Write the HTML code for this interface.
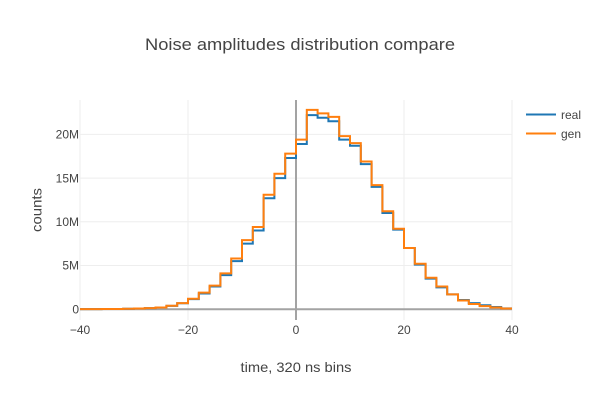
<!DOCTYPE html>
<html>
<head>
<meta charset="utf-8">
<title>Noise amplitudes distribution compare</title>
<style>
html,body{margin:0;padding:0;background:#fff;}
svg{display:block;font-family:"Liberation Sans",sans-serif;}
text{fill:#444;}
</style>
</head>
<body>
<svg id="chart" width="600" height="400" viewBox="0 0 600 400" xmlns="http://www.w3.org/2000/svg">
  <rect x="0" y="0" width="600" height="400" fill="#fff"/>
  <g id="grid"></g>
  <g id="zero"></g>
  <g id="series"></g>
  <g id="xticks"></g>
  <g id="yticks"></g>
  <text x="300" y="50" text-anchor="middle" font-size="17" textLength="310" lengthAdjust="spacingAndGlyphs">Noise amplitudes distribution compare</text>
  <text x="296" y="372" text-anchor="middle" font-size="14" textLength="111" lengthAdjust="spacingAndGlyphs">time, 320 ns bins</text>
  <text x="0" y="0" transform="translate(41.5,210) rotate(-90)" text-anchor="middle" font-size="14" textLength="44" lengthAdjust="spacingAndGlyphs">counts</text>
  <g>
    <g>
      <line x1="526" x2="556" y1="114.5" y2="114.5" stroke="#1f77b4" stroke-width="2"/>
      <text x="561" y="119" font-size="12">real</text>
    </g>
    <g>
      <line x1="526" x2="556" y1="133.5" y2="133.5" stroke="#ff7f0e" stroke-width="2"/>
      <text x="561" y="138" font-size="12">gen</text>
    </g>
  </g>
</svg>
<script>
const binStarts = [-40,-38,-36,-34,-32,-30,-28,-26,-24,-22,-20,-18,-16,-14,-12,-10,-8,-6,-4,-2,0,2,4,6,8,10,12,14,16,18,20,22,24,26,28,30,32,34,36,38];
const realValues = [0.01,0.01,0.02,0.03,0.05,0.08,0.12,0.2,0.38,0.68,1.15,1.8,2.6,3.9,5.5,7.5,9.0,12.7,15.0,17.3,18.9,22.2,21.9,21.5,19.4,18.7,16.6,14.0,11.0,9.1,7.0,5.1,3.5,2.5,1.7,1.05,0.7,0.45,0.25,0.1];
const genValues = [0.01,0.01,0.02,0.03,0.05,0.08,0.12,0.2,0.4,0.7,1.2,1.9,2.7,4.1,5.8,7.9,9.4,13.1,15.5,17.8,19.4,22.8,22.4,22.0,19.8,19.0,16.9,14.2,11.2,9.2,7.0,5.2,3.6,2.6,1.7,1.0,0.6,0.35,0.2,0.08];
const binWidth = 2;
const xTicks = [-40,-20,0,20,40];
const xTickLabels = ["\u221240","\u221220","0","20","40"];
const yTicks = [0,5,10,15,20];
const yTickLabels = ["0","5M","10M","15M","20M"];

const NS = "http://www.w3.org/2000/svg";
const plotLeft = 80, plotRight = 512, plotTop = 100, plotBottom = 320;
function xScale(v){ return plotLeft + (v + 40) * (plotRight - plotLeft) / 80; }
function yScale(v){ return 309.2 - v * 8.74; }

function makeLine(x1, y1, x2, y2, stroke, width){
  const l = document.createElementNS(NS, "line");
  l.setAttribute("x1", x1);
  l.setAttribute("y1", y1);
  l.setAttribute("x2", x2);
  l.setAttribute("y2", y2);
  l.setAttribute("stroke", stroke);
  l.setAttribute("stroke-width", width);
  return l;
}
function makeText(x, y, anchor, content){
  const t = document.createElementNS(NS, "text");
  t.setAttribute("x", x);
  t.setAttribute("y", y);
  t.setAttribute("text-anchor", anchor);
  t.setAttribute("font-size", "12");
  t.textContent = content;
  return t;
}

const grid = document.getElementById("grid");
const zero = document.getElementById("zero");
const xticksGroup = document.getElementById("xticks");
const yticksGroup = document.getElementById("yticks");
const seriesGroup = document.getElementById("series");

xTicks.forEach(function(v, i){
  if (v !== 0) {
    const g = makeLine(xScale(v), plotTop, xScale(v), plotBottom, "#eee", 1);
    
    
    grid.appendChild(g);
  }
  const t = makeText(xScale(v), 334, "middle", xTickLabels[i]);
  
  
  xticksGroup.appendChild(t);
});
yTicks.forEach(function(v, i){
  if (v !== 0) {
    const g = makeLine(plotLeft, yScale(v), plotRight, yScale(v), "#eee", 1);
    
    
    grid.appendChild(g);
  }
  const t = makeText(79, yScale(v) + 4.2, "end", yTickLabels[i]);
  
  
  yticksGroup.appendChild(t);
});

const zeroX = makeLine(xScale(0), plotTop, xScale(0), plotBottom, "#a3a3a3", 2);


zero.appendChild(zeroX);
const zeroY = makeLine(plotLeft, yScale(0), plotRight, yScale(0), "#a3a3a3", 2);


zero.appendChild(zeroY);

function stepPath(values){
  let d = "";
  values.forEach(function(v, i){
    const xa = xScale(binStarts[i]);
    const xb = xScale(binStarts[i] + binWidth);
    const y = yScale(v);
    d += (i === 0 ? "M" : "L") + xa.toFixed(2) + "," + y.toFixed(2) + "L" + xb.toFixed(2) + "," + y.toFixed(2);
  });
  return d;
}
const realPath = document.createElementNS(NS, "path");


realPath.setAttribute("d", stepPath(realValues));
realPath.setAttribute("fill", "none");
realPath.setAttribute("stroke", "#1f77b4");
realPath.setAttribute("stroke-width", "2");
seriesGroup.appendChild(realPath);

const genPath = document.createElementNS(NS, "path");


genPath.setAttribute("d", stepPath(genValues));
genPath.setAttribute("fill", "none");
genPath.setAttribute("stroke", "#ff7f0e");
genPath.setAttribute("stroke-width", "2");
seriesGroup.appendChild(genPath);
</script>
</body>
</html>
